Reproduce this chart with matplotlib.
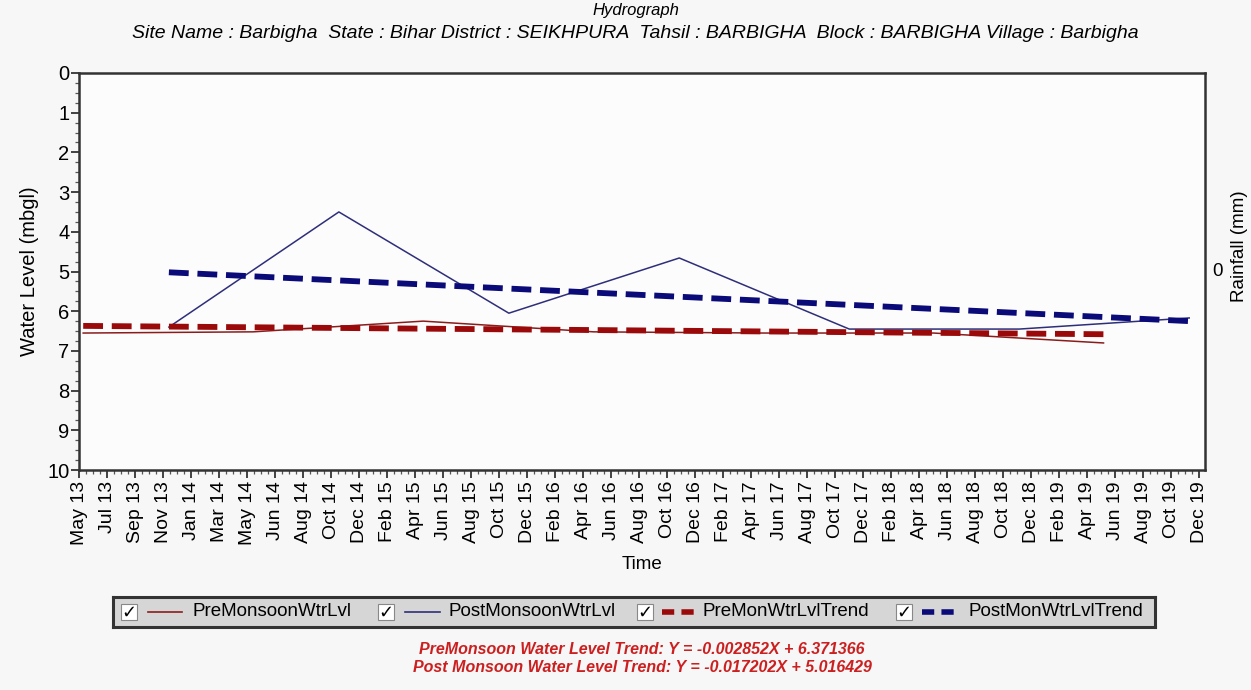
import matplotlib
matplotlib.use("Agg")
import matplotlib.pyplot as plt
import matplotlib.dates as mdates
from matplotlib.patches import Rectangle
from matplotlib.lines import Line2D
import numpy as np
import datetime as dt

# ---------------- data ----------------
tick_labels = ["May 13", "Jul 13", "Sep 13", "Nov 13", "Jan 14", "Mar 14", "May 14", "Jun 14",
               "Aug 14", "Oct 14", "Dec 14", "Feb 15", "Apr 15", "Jun 15", "Aug 15", "Oct 15",
               "Dec 15", "Feb 16", "Apr 16", "Jun 16", "Aug 16", "Oct 16", "Dec 16", "Feb 17",
               "Apr 17", "Jun 17", "Aug 17", "Oct 17", "Dec 17", "Feb 18", "Apr 18", "Jun 18",
               "Aug 18", "Oct 18", "Dec 18", "Feb 19", "Apr 19", "Jun 19", "Aug 19", "Oct 19",
               "Dec 19"]
axis_start = "2013-05-01"
axis_end = "2019-12-01"

pre_dates = ["2013-05-10", "2014-05-10", "2015-05-10", "2016-05-10",
             "2017-05-10", "2018-05-10", "2019-05-10"]
pre_levels = [6.55, 6.52, 6.25, 6.52, 6.55, 6.55, 6.80]

post_dates = ["2013-11-10", "2014-11-10", "2015-11-10", "2016-11-10",
              "2017-11-10", "2018-11-10", "2019-11-10"]
post_levels = [6.40, 3.50, 6.05, 4.66, 6.45, 6.45, 6.17]

pre_trend_dates = ["2013-05-10", "2019-05-10"]
pre_trend_levels = [6.37, 6.58]
post_trend_dates = ["2013-11-10", "2019-11-10"]
post_trend_levels = [5.02, 6.25]

title = "Hydrograph"
subtitle = ("Site Name : Barbigha  State : Bihar District : SEIKHPURA  Tahsil : BARBIGHA  "
            "Block : BARBIGHA Village : Barbigha")
legend_labels = ["PreMonsoonWtrLvl", "PostMonsoonWtrLvl", "PreMonWtrLvlTrend", "PostMonWtrLvlTrend"]
eq_pre = "PreMonsoon Water Level Trend: Y = -0.002852X + 6.371366"
eq_post = "Post Monsoon Water Level Trend: Y = -0.017202X + 5.016429"

# ---------------- style ----------------
C_PRE = "#8b1c1c"
C_POST = "#2e2e7a"
C_PRE_T = "#9b0a0a"
C_POST_T = "#0a0a78"
FONT = ["Liberation Sans", "DejaVu Sans"]
plt.rcParams["font.family"] = FONT

W, H = 1251, 690
fig = plt.figure(figsize=(W / 100, H / 100), dpi=100, facecolor="#f7f7f7")

def fx(px):
    return px / W

def fy(py):
    return 1 - py / H

L, R, T, B = 79, 1205, 73, 470
ax = fig.add_axes([fx(L), fy(B), fx(R) - fx(L), fy(T) - fy(B)])
ax.set_facecolor("#fcfcfc")

to_num = lambda ds: mdates.date2num([dt.datetime.fromisoformat(d) for d in ds])
t0 = to_num([axis_start])[0]
t1 = to_num([axis_end])[0]
ticks = np.linspace(t0, t1, len(tick_labels))
step = ticks[1] - ticks[0]
ax.set_xlim(t0, t1 + step * 6 / 28)
ax.set_ylim(10, 0)

ax.plot(to_num(pre_dates), pre_levels, color=C_PRE, lw=1.1, zorder=3)
ax.plot(to_num(post_dates), post_levels, color=C_POST, lw=1.1, zorder=3)
ax.plot(to_num(pre_trend_dates), pre_trend_levels, color=C_PRE_T, lw=4.2,
        dashes=(3.4, 1.5), zorder=4)
ax.plot(to_num(post_trend_dates), post_trend_levels, color=C_POST_T, lw=4.2,
        dashes=(3.4, 1.5), zorder=4)

ax.set_xticks(ticks)
ax.set_xticklabels(tick_labels, rotation=90, fontsize=14)
ax.set_xticks(np.linspace(t0, t1, (len(tick_labels) - 1) * 4 + 1), minor=True)
ax.set_yticks(range(0, 11))
ax.set_yticklabels([str(i) for i in range(11)], fontsize=14.5)
ax.set_yticks(np.arange(0, 10.01, 0.25), minor=True)
ax.tick_params(axis="both", which="major", length=6, width=1.3, color="#333333", pad=2)
ax.tick_params(axis="both", which="minor", length=3, width=0.9, color="#555555")
ax.tick_params(axis="y", pad=1)
for s in ax.spines.values():
    s.set_linewidth(1.8)
    s.set_color("#333333")

ax.set_ylabel("Water Level (mbgl)", fontsize=14.5, labelpad=6)
ax.set_xlabel("Time", fontsize=13.5, labelpad=8)

ax2 = ax.twinx()
ax2.set_ylim(-0.504, 0.496)
ax2.set_yticks([0])
ax2.set_yticklabels(["0"], fontsize=13.5)
ax2.tick_params(axis="y", length=0, pad=5)
for s in ax2.spines.values():
    s.set_visible(False)
fig.text(fx(1240), fy(246), "Rainfall (mm)", rotation=90, ha="center", va="center",
         fontsize=13.5)

# titles
fig.text(fx(636), fy(11), title, ha="center", va="center", fontsize=12, style="italic")
fig.text(fx(635), fy(33), subtitle, ha="center", va="center", fontsize=14, style="italic")

# legend box
lax = fig.add_axes([fx(113), fy(627), fx(1155) - fx(113), fy(597) - fy(627)])
lax.set_xlim(113, 1155)
lax.set_ylim(627, 597)
lax.set_facecolor("#d6d6d6")
lax.set_xticks([])
lax.set_yticks([])
for s in lax.spines.values():
    s.set_linewidth(2.2)
    s.set_color("#333333")

cb_x = [129, 386, 645, 904]
line_x = [(148, 182), (405, 440), (662, 697), (922, 958)]
txt_x = [192, 449, 703, 969]
styles = [(C_PRE, 1.2, None), (C_POST, 1.2, None), (C_PRE_T, 4.0, (2.2, 1.3)), (C_POST_T, 4.0, (2.2, 1.3))]
ym = 612
for i in range(4):
    lax.add_patch(Rectangle((cb_x[i] - 8, ym - 8), 16, 16, facecolor="white",
                            edgecolor="#888888", lw=0.8))
    lax.text(cb_x[i], ym + 0.5, "\u2713", ha="center", va="center", fontsize=13,
             fontweight="bold", color="black", family="DejaVu Sans")
    c, lw, d = styles[i]
    ln = Line2D(line_x[i], [ym, ym], color=c, lw=lw)
    if d is not None:
        ln.set_dashes(d)
    lax.add_line(ln)
    lax.text(txt_x[i], ym, legend_labels[i], ha="left", va="center", fontsize=13.5)

# equations
fig.text(fx(642), fy(649), eq_pre, ha="center", va="center", fontsize=11.5,
         style="italic", color="#cc1f1f", fontweight="bold")
fig.text(fx(642), fy(667), eq_post, ha="center", va="center", fontsize=11.5,
         style="italic", color="#cc1f1f", fontweight="bold")

fig.savefig("out.png", dpi=100, facecolor=fig.get_facecolor())
